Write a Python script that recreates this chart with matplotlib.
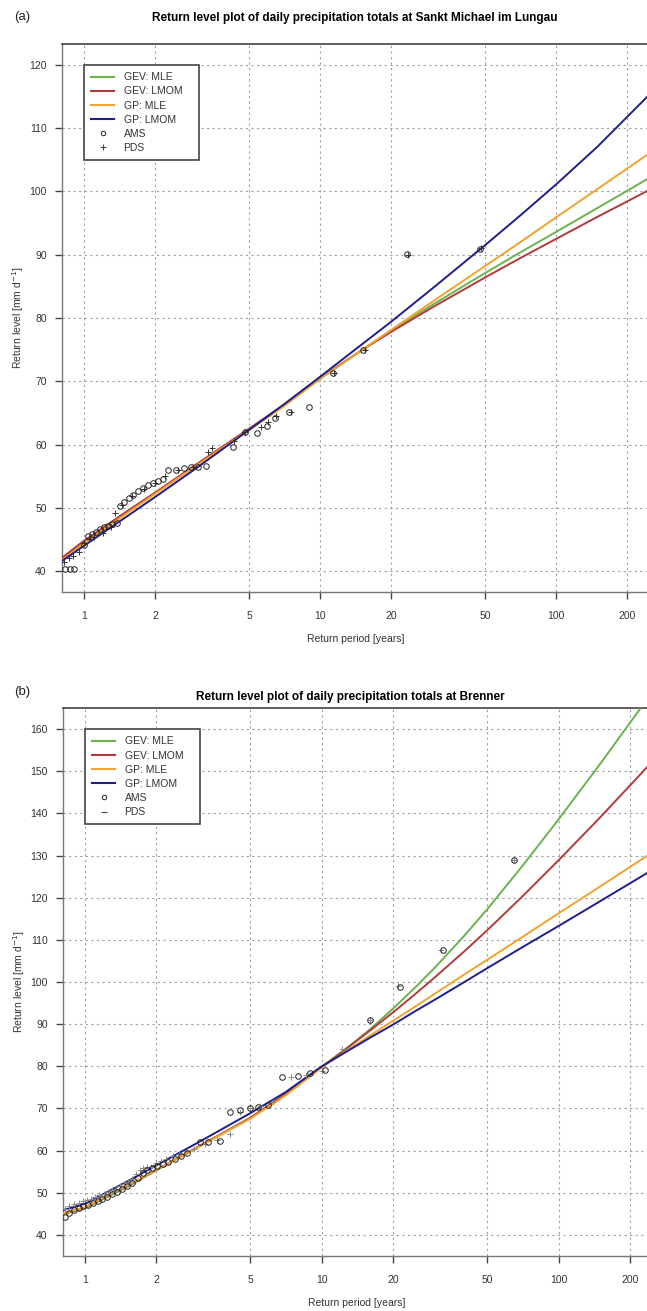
import numpy as np
import matplotlib
matplotlib.use('Agg')
import matplotlib.pyplot as plt
from matplotlib.lines import Line2D

plt.rcParams['font.family'] = ['Liberation Sans', 'DejaVu Sans']

#------------------------------------------------------------------------------
#-------------- data ----------------------------------------------------------
#------------------------------------------------------------------------------

series_names = ['GEV: MLE', 'GEV: LMOM', 'GP: MLE', 'GP: LMOM']
series_colors = ['#6bb24f', '#b23a3a', '#f2a22e', '#1e1e8c']

xtick_vals = [1, 2, 5, 10, 20, 50, 100, 200]
xtick_labels = ['1', '2', '5', '10', '20', '50', '100', '200']

# (a) Sankt Michael im Lungau
T_curve_a = [0.8, 1, 1.5, 2, 3, 5, 7, 10, 15, 20, 30, 50, 70, 100, 150, 250]
gev_mle_a = [41.6, 44.6, 49.2, 52.3, 56.8, 62.4, 66.1, 70.4, 74.9, 78.0, 82.1, 87.1, 90.3, 93.6, 97.4, 102.2]
gev_lmom_a = [42.0, 44.8, 49.3, 52.4, 56.9, 62.5, 66.2, 70.5, 74.9, 77.8, 81.7, 86.4, 89.4, 92.5, 96.0, 100.3]
gp_mle_a = [41.6, 44.4, 49.0, 52.2, 56.7, 62.3, 66.0, 70.4, 74.9, 78.1, 82.6, 88.2, 91.9, 95.9, 100.4, 106.1]
gp_lmom_a = [41.5, 44.0, 48.5, 51.7, 56.3, 62.3, 66.3, 70.7, 75.8, 79.4, 84.7, 91.5, 96.1, 101.1, 107.1, 115.4]

ams_T_a = [0.83, 0.87, 0.91, 1.0, 1.04, 1.08, 1.12, 1.17, 1.22, 1.27, 1.32, 1.38,
           1.42, 1.48, 1.55, 1.62, 1.70, 1.78, 1.87, 1.96, 2.06, 2.16,
           2.27, 2.45, 2.65, 2.85, 3.05, 3.30, 4.28, 4.80, 5.40, 5.97, 6.45,
           7.40, 9.00, 11.4, 15.2, 23.4, 47.6]
ams_a = [40.4, 40.4, 40.4, 44.1, 45.6, 45.9, 46.2, 46.6, 46.9, 47.2, 47.5, 47.6,
         50.3, 50.9, 51.5, 52.1, 52.6, 53.2, 53.6, 54.0, 54.3, 54.6,
         56.0, 56.0, 56.3, 56.4, 56.5, 56.6, 59.6, 62.0, 61.9, 63.0, 64.2,
         65.1, 65.9, 71.3, 74.9, 90.1, 90.9]

pds_T_a = [0.82, 0.86, 0.90, 0.95, 1.0, 1.05, 1.10, 1.20, 1.30, 1.35, 1.45, 1.60,
           1.80, 2.0, 2.2, 2.5, 2.9, 3.35, 3.50, 4.30, 4.80, 5.6, 6.0, 6.5,
           7.5, 11.5, 15.5, 23.5, 48.0]
pds_a = [41.5, 42.0, 42.4, 43.0, 44.5, 45.0, 45.4, 46.0, 47.0, 49.2, 50.5, 51.8,
         53.0, 54.0, 55.0, 56.0, 56.4, 58.8, 59.4, 60.5, 62.0, 62.8, 63.5, 64.5,
         65.2, 71.3, 75.0, 90.0, 91.0]

# (b) Brenner
T_curve_b = [0.8, 1, 1.5, 2, 3, 5, 7, 10, 13, 16, 20, 25, 30, 40, 50, 70, 100, 150, 220, 250]
gev_mle_b = [44.8, 46.3, 51.3, 55.3, 60.8, 67.8, 73.4, 79.9, 84.7, 88.8, 93.7, 98.9, 103.4, 111.0, 117.3,
             127.4, 138.6, 151.8, 164.7, 169.2]
gev_lmom_b = [45.0, 46.5, 51.5, 55.4, 60.9, 67.8, 73.3, 79.8, 84.6, 88.5, 92.8, 97.3, 101.1, 107.3, 112.3,
              120.2, 128.9, 139.1, 149.1, 152.5]
gp_mle_b = [45.0, 46.6, 51.6, 55.4, 60.8, 67.6, 73.0, 79.8, 84.0, 87.3, 90.8, 94.3, 97.2, 101.8, 105.3,
            110.6, 116.3, 122.7, 128.8, 130.8]
gp_lmom_b = [45.8, 47.4, 52.6, 56.5, 61.9, 68.9, 73.8, 80.0, 83.8, 86.8, 89.9, 93.2, 95.8, 100.0, 103.3,
             108.2, 113.3, 119.2, 124.8, 126.7]

ams_T_b = [0.82, 0.86, 0.90, 0.94, 0.98, 1.03, 1.08, 1.13, 1.18, 1.24, 1.30, 1.36,
           1.43, 1.50, 1.58, 1.67, 1.76, 1.83, 1.92, 2.02, 2.13, 2.25, 2.40,
           2.55, 2.70, 3.05, 3.30, 3.70, 4.10, 4.50, 5.00, 5.40, 5.90, 6.80,
           7.90, 8.90, 10.3, 15.9, 21.3, 32.4, 65.0]
ams_b = [44.3, 45.3, 45.8, 46.3, 46.8, 47.2, 47.6, 48.0, 48.5, 49.0, 49.6, 50.2,
         50.8, 51.5, 52.3, 53.5, 54.7, 55.4, 55.9, 56.4, 56.9, 57.4, 58.0,
         58.7, 59.5, 62.0, 62.0, 62.2, 69.2, 69.6, 70.2, 70.4, 70.8, 77.5,
         77.8, 78.4, 79.1, 91.0, 98.8, 107.6, 129.0]

pds_T_b = [0.82, 0.86, 0.90, 0.94, 0.98, 1.02, 1.06, 1.10, 1.15, 1.20, 1.25, 1.30,
           1.35, 1.40, 1.46, 1.52, 1.58, 1.64, 1.70, 1.76, 1.82, 1.90, 2.0, 2.1,
           2.2, 2.35, 2.5, 2.7, 2.9, 3.2, 3.6, 4.1, 4.5, 5.0, 5.5, 6.2, 7.4, 8.6,
           10.0, 12.2, 16.0, 21.0, 32.0, 65.0]
pds_b = [46.2, 46.8, 47.3, 47.6, 48.0, 48.3, 48.6, 49.0, 49.4, 49.8, 50.3, 50.6,
         51.0, 51.5, 52.0, 52.6, 53.3, 54.5, 55.5, 55.8, 56.0, 56.2, 57.0, 57.5,
         58.0, 58.7, 59.2, 59.8, 60.5, 61.5, 62.5, 64.0, 69.2, 70.0, 70.5, 71.5,
         77.5, 78.0, 79.0, 84.0, 91.0, 99.0, 107.5, 129.0]

#------------------------------------------------------------------------------
#-------------- one panel ------------------------------------------------------
#------------------------------------------------------------------------------

def draw_panel(ax, T_curve, curves, ams_T, ams, pds_T, pds, xlim, ylim, yticks,
               pds_color, pds_legend_marker, legend_top, xlabel_y):
    ax.set_xscale('log')
    ax.set_xlim(*xlim)
    ax.set_ylim(*ylim)
    ax.set_xticks(xtick_vals)
    ax.set_xticklabels(xtick_labels)
    ax.set_yticks(yticks)
    ax.minorticks_off()
    ax.grid(True, color='#a0a0a0', linestyle=(0, (2, 3)), linewidth=0.8)
    ax.set_axisbelow(True)

    for vals, col in zip(curves, series_colors):
        ax.plot(T_curve, vals, color=col, lw=1.4, zorder=3)
    ax.plot(pds_T, pds, ls='none', marker='+', ms=5, mew=0.7,
            color=pds_color, zorder=4)
    ax.plot(ams_T, ams, ls='none', marker='o', ms=4, mew=0.7,
            mfc='none', mec='#222222', zorder=5)

    for s in ['left', 'bottom']:
        ax.spines[s].set_color('#777777')
        ax.spines[s].set_linewidth(1.0)
    ax.spines['top'].set_color('#333333')
    ax.spines['top'].set_linewidth(1.1)
    ax.spines['right'].set_visible(False)
    ax.tick_params(axis='both', direction='out', length=5, width=1.0,
                   color='#444444', labelsize=7.5, labelcolor='#333333')
    ax.tick_params(axis='x', pad=9)
    ax.tick_params(axis='y', pad=6)

    ax.set_xlabel('Return period [years]', fontsize=7.5, color='#333333')
    ax.set_ylabel('Return level [mm d$^{-1}$]', fontsize=7.5, color='#333333')
    ax.xaxis.set_label_coords(0.5, xlabel_y)
    ax.yaxis.set_label_coords(-0.062, 0.5)

    handles = [Line2D([], [], color=c, lw=1.5) for c in series_colors]
    handles.append(Line2D([], [], ls='none', marker='o', ms=3.2, mew=0.7,
                          mfc='none', mec='#222222'))
    handles.append(Line2D([], [], ls='none', marker=pds_legend_marker, ms=5,
                          mew=0.8, color='#444444'))
    labels = series_names + ['AMS', 'PDS']

    # legend box anchored at T = 1 and the upper grid line, like the R plot
    to_ax = ax.transAxes.inverted()
    x0, y1 = to_ax.transform(ax.transData.transform((1, legend_top)))
    leg = ax.legend(handles, labels, loc='upper left', mode='expand',
                    bbox_to_anchor=(x0, y1 - 0.1, 0.196, 0.1),
                    bbox_transform=ax.transAxes, borderaxespad=0,
                    fontsize=7.5, fancybox=False, framealpha=1,
                    edgecolor='#444444', handlelength=2.2, handletextpad=0.9,
                    labelspacing=0.4, borderpad=0.7)
    leg.get_frame().set_linewidth(1.2)
    for t in leg.get_texts():
        t.set_color('#333333')
    leg.set_zorder(6)


fig = plt.figure(figsize=(6.47, 13.11), dpi=100)

ax_a = fig.add_axes([62 / 647, (1311 - 592) / 1311, 588 / 647, 548 / 1311])
draw_panel(ax_a, T_curve_a, [gev_mle_a, gev_lmom_a, gp_mle_a, gp_lmom_a],
           ams_T_a, ams_a, pds_T_a, pds_a,
           xlim=(0.807, 250), ylim=(36.7, 123.3), yticks=range(40, 121, 10),
           pds_color='#333333', pds_legend_marker='+',
           legend_top=120, xlabel_y=-0.076)

ax_b = fig.add_axes([63 / 647, (1311 - 1256) / 1311, 587 / 647, 548 / 1311])
draw_panel(ax_b, T_curve_b, [gev_mle_b, gev_lmom_b, gp_mle_b, gp_lmom_b],
           ams_T_b, ams_b, pds_T_b, pds_b,
           xlim=(0.808, 243), ylim=(35, 165), yticks=range(40, 161, 10),
           pds_color='#8a8a8a', pds_legend_marker='_',
           legend_top=160, xlabel_y=-0.076)

fig.text(14 / 647, 1 - 17 / 1311, '(a)', fontsize=9.5, va='center', color='#222222')
fig.text(355 / 647, 1 - 18 / 1311,
         'Return level plot of daily precipitation totals at Sankt Michael im Lungau',
         ha='center', va='center', fontsize=8.5, fontweight='bold')
fig.text(14 / 647, 1 - 692 / 1311, '(b)', fontsize=9.5, va='center', color='#222222')
fig.text(350 / 647, 1 - 697 / 1311,
         'Return level plot of daily precipitation totals at Brenner',
         ha='center', va='center', fontsize=8.5, fontweight='bold')

fig.savefig('out.png', dpi=100)
